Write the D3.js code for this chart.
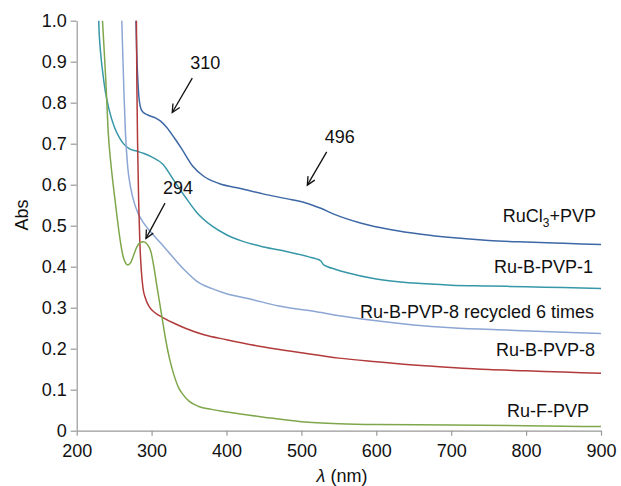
<!DOCTYPE html>
<html>
<head>
<meta charset="utf-8">
<script src="https://cdn.jsdelivr.net/npm/d3@7"></script>
<style>
  body { margin: 0; background: #fff; }
  text { font-family: "Liberation Sans", Arial, sans-serif; }
</style>
</head>
<body>
<div id="chart"></div>
<script>
// wavelength (nm) / absorbance pairs
var rucl3Wl  = [278.5, 280, 281.5, 283, 285, 288, 295, 305, 312, 320, 330, 340, 355, 370, 390, 420, 450, 480, 505, 525, 545, 580, 620, 660, 700, 750, 800, 850, 900];
var rucl3Abs = [1.05, 0.93, 0.86, 0.815, 0.79, 0.778, 0.77, 0.763, 0.755, 0.74, 0.715, 0.688, 0.645, 0.62, 0.603, 0.59, 0.577, 0.566, 0.556, 0.543, 0.527, 0.506, 0.49, 0.479, 0.471, 0.464, 0.46, 0.457, 0.454];

var b1Wl  = [228.5, 230, 232, 235, 238, 243, 250, 257, 263, 270, 280, 290, 300, 315, 330, 345, 360, 380, 400, 420, 450, 480, 510, 520, 526, 529, 535, 545, 560, 600, 650, 700, 750, 800, 850, 900];
var b1Abs = [1.04, 0.97, 0.92, 0.87, 0.83, 0.785, 0.742, 0.715, 0.699, 0.688, 0.682, 0.676, 0.668, 0.65, 0.61, 0.57, 0.533, 0.5, 0.478, 0.463, 0.448, 0.437, 0.424, 0.419, 0.414, 0.406, 0.4, 0.394, 0.386, 0.37, 0.36, 0.355, 0.353, 0.351, 0.349, 0.347];

var recycledWl  = [259.5, 261, 263, 265, 268, 272, 277, 282, 290, 300, 315, 330, 345, 360, 380, 400, 430, 470, 520, 560, 600, 650, 700, 780, 850, 900];
var recycledAbs = [1.05, 0.95, 0.83, 0.73, 0.645, 0.593, 0.555, 0.53, 0.505, 0.482, 0.452, 0.42, 0.39, 0.365, 0.347, 0.334, 0.322, 0.304, 0.29, 0.278, 0.268, 0.258, 0.251, 0.245, 0.24, 0.237];

var b8Wl  = [279.5, 280.3, 281.3, 282.7, 284.3, 286.3, 288.5, 292, 297, 305, 315, 330, 345, 370, 400, 450, 500, 550, 600, 650, 700, 750, 800, 850, 900];
var b8Abs = [1.05, 0.85, 0.7, 0.56, 0.46, 0.39, 0.348, 0.322, 0.302, 0.287, 0.276, 0.262, 0.25, 0.234, 0.222, 0.204, 0.19, 0.177, 0.168, 0.16, 0.154, 0.149, 0.146, 0.143, 0.14];

var fWl  = [233.5, 236, 239, 242, 246, 250, 254, 258, 262, 265, 268, 272, 276, 280, 285, 289, 294, 299, 303, 306, 310, 314, 319, 324, 330, 336, 342, 350, 363, 380, 403, 450, 500, 550, 600, 700, 800, 850, 900];
var fAbs = [1.03, 0.95, 0.85, 0.73, 0.645, 0.58, 0.52, 0.465, 0.425, 0.41, 0.404, 0.41, 0.428, 0.447, 0.459, 0.461, 0.455, 0.437, 0.4, 0.365, 0.32, 0.275, 0.22, 0.175, 0.135, 0.105, 0.088, 0.072, 0.059, 0.052, 0.045, 0.033, 0.022, 0.017, 0.015, 0.014, 0.012, 0.011, 0.01];

var seriesNames = ["RuCl3+PVP", "Ru-B-PVP-1", "Ru-B-PVP-8 recycled 6 times", "Ru-B-PVP-8", "Ru-F-PVP"];
var seriesColors = ["#3d68a5", "#3697a8", "#8ca6d4", "#b23a3a", "#7ea74c"];
var xTicks = [200, 300, 400, 500, 600, 700, 800, 900];
var yTicks = [0, 0.1, 0.2, 0.3, 0.4, 0.5, 0.6, 0.7, 0.8, 0.9, 1.0];

// peak annotations: label, arrow tip and tail in data units
var peakLabels = ["310", "496", "294"];
var tipWl   = [327.6, 507.9, 292.5];
var tipAbs  = [0.776, 0.599, 0.469];
var tailWl  = [354.3, 533.8, 317.9];
var tailAbs = [0.860, 0.680, 0.555];

function zip(wl, ab) { return wl.map(function(w, i) { return { x: w, y: ab[i] }; }); }
var series = [zip(rucl3Wl, rucl3Abs), zip(b1Wl, b1Abs), zip(recycledWl, recycledAbs), zip(b8Wl, b8Abs), zip(fWl, fAbs)];

var width = 621, height = 486;
var margin = { left: 76.7, top: 20.7 };
var plotW = 524.3, plotH = 410;

var svg = d3.select("#chart").append("svg")
    .attr("width", width)
    .attr("height", height);

var x = d3.scaleLinear().domain([200, 900]).range([margin.left, margin.left + plotW]);
var y = d3.scaleLinear().domain([0, 1]).range([margin.top + plotH, margin.top]);

svg.append("defs").append("clipPath").attr("id", "plotclip")
  .append("rect")
    .attr("x", margin.left).attr("y", margin.top)
    .attr("width", plotW).attr("height", plotH);

// axes
var yAxis = d3.axisLeft(y).tickValues(yTicks).tickSize(6).tickSizeOuter(0).tickPadding(4)
    .tickFormat(function(d) { return d === 0 ? "0" : d3.format(".1f")(d); });
var xAxis = d3.axisBottom(x).tickValues(xTicks).tickSize(5).tickSizeOuter(0).tickPadding(9);

var gy = svg.append("g").attr("transform", "translate(" + margin.left + ",0)").call(yAxis);
var gx = svg.append("g").attr("transform", "translate(0," + (margin.top + plotH) + ")").call(xAxis);
[gx, gy].forEach(function(g) {
  g.selectAll("path, line").attr("stroke", "#999").attr("stroke-width", 1.2);
  g.selectAll("text").attr("font-size", 18).attr("fill", "#111")
    .style("font-family", "'Liberation Sans', Arial, sans-serif");
});

svg.append("text")
    .attr("transform", "translate(28,215) rotate(-90)")
    .attr("text-anchor", "middle")
    .attr("font-size", 18).attr("fill", "#111")
    .text("Abs");

var xl = svg.append("text")
    .attr("x", 342).attr("y", 482)
    .attr("text-anchor", "middle")
    .attr("font-size", 18).attr("fill", "#111");
xl.append("tspan").attr("font-style", "italic").text("λ");
xl.append("tspan").text(" (nm)");

// spectra
var line = d3.line()
    .x(function(d) { return x(d.x); })
    .y(function(d) { return y(d.y); })
    .curve(d3.curveMonotoneX);

svg.append("g").attr("clip-path", "url(#plotclip)")
  .selectAll("path")
  .data(series)
  .enter()
  .append("path")
    .attr("d", line)
    .attr("fill", "none")
    .attr("stroke", function(d, i) { return seriesColors[i]; })
    .attr("stroke-width", 1.5);

// series labels, right aligned near the end of each trace
var labelPos = [[596, 221.5], [593, 273], [594, 317.5], [595, 355.7], [589, 416.5]];
seriesNames.forEach(function(name, i) {
  var t = svg.append("text")
      .attr("x", labelPos[i][0]).attr("y", labelPos[i][1])
      .attr("text-anchor", "end")
      .attr("font-size", 18).attr("fill", "#111");
  if (name === "RuCl3+PVP") {
    t.append("tspan").text("RuCl");
    t.append("tspan").attr("font-size", 12).attr("dy", 5).text("3");
    t.append("tspan").attr("dy", -5).text("+PVP");
  } else {
    t.text(name);
  }
});

// arrows with open heads, label sits above the tail
peakLabels.forEach(function(lab, i) {
  var tx = x(tipWl[i]), ty = y(tipAbs[i]);
  var sx = x(tailWl[i]), sy = y(tailAbs[i]);
  var g = svg.append("g").attr("stroke", "#111").attr("stroke-width", 1.3).attr("fill", "none");
  g.append("line").attr("x1", sx).attr("y1", sy).attr("x2", tx).attr("y2", ty);
  var ang = Math.atan2(ty - sy, tx - sx);
  var hl = 9, ha = 0.45;
  g.append("path").attr("d",
    "M" + (tx - hl * Math.cos(ang - ha)) + "," + (ty - hl * Math.sin(ang - ha)) +
    "L" + tx + "," + ty +
    "L" + (tx - hl * Math.cos(ang + ha)) + "," + (ty - hl * Math.sin(ang + ha)));
  svg.append("text")
      .attr("x", sx + 13).attr("y", sy - 9)
      .attr("text-anchor", "middle")
      .attr("font-size", 18).attr("fill", "#111")
      .text(lab);
});
</script>
</body>
</html>
